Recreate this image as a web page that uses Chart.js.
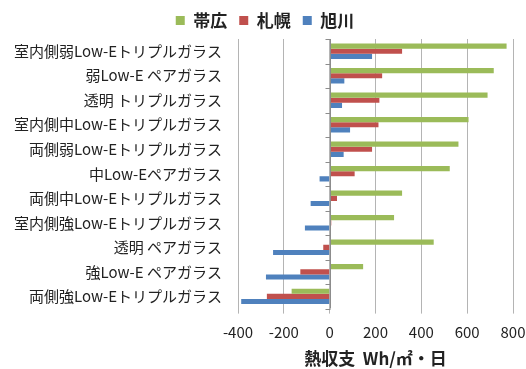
<!DOCTYPE html>
<html>
<head>
<meta charset="utf-8">
<script src="https://cdn.jsdelivr.net/npm/chart.js@4/dist/chart.umd.min.js"></script>
<style>
  html, body { margin: 0; padding: 0; background: #fff; }
  #wrap { width: 526px; height: 369px; }
</style>
</head>
<body>
<div id="wrap"><canvas id="heatChart"></canvas></div>
<script>
// glass types, top to bottom
const glassTypes = [
     '室内側弱Low-Eトリプルガラス',
     '弱Low-E ペアガラス',
     '透明 トリプルガラス',
     '室内側中Low-Eトリプルガラス',
     '両側弱Low-Eトリプルガラス',
     '中Low-Eペアガラス',
     '両側中Low-Eトリプルガラス',
     '室内側強Low-Eトリプルガラス',
     '透明 ペアガラス',
     '強Low-E ペアガラス',
     '両側強Low-Eトリプルガラス',
]

// heat balance values, Wh/㎡・day
const obihiro = [772, 716, 689, 606, 562, 524, 316, 281, 454, 146, -166]
const sapporo = [316, 229, 217, 213, 185, 109, 32, 7, -28, -128, -274]
const asahikawa = [185, 64, 54, 89, 61, -44, -83, -108, -247, -278, -386]

const xTicks = [-400, -200, 0, 200, 400, 600, 800]

const fontJP = "'Noto Sans CJK JP', 'Noto Sans', sans-serif"

// the category axis sits on zero, with small ticks between the groups
const zeroAxis = {
     id: 'zeroAxis',
     afterDatasetsDraw(chart) {
          const { ctx, scales: { x, y } } = chart
          const x0 = Math.round(x.getPixelForValue(0)) + 0.5
          const step = y.getPixelForTick(1) - y.getPixelForTick(0)
          ctx.save()
          ctx.strokeStyle = '#8c8c8c'
          ctx.lineWidth = 1
          ctx.beginPath()
          ctx.moveTo(x0, y.top)
          ctx.lineTo(x0, y.bottom)
          for (let i = 0; i <= glassTypes.length; i++) {
               const py = Math.round(y.getPixelForTick(0) - step / 2 + i * step) + 0.5
               ctx.moveTo(x0 - 5, py)
               ctx.lineTo(x0, py)
          }
          ctx.stroke()
          ctx.restore()
     }
}

new Chart(document.getElementById('heatChart'), {
     type: 'bar',
     data: {
          labels: glassTypes,
          datasets: [
               { label: '帯広', data: obihiro, backgroundColor: '#9BBB59' },
               { label: '札幌', data: sapporo, backgroundColor: '#C0504D' },
               { label: '旭川', data: asahikawa, backgroundColor: '#4F81BD' },
          ]
     },
     options: {
          indexAxis: 'y',
          responsive: true,
          maintainAspectRatio: false,
          animation: false,
          categoryPercentage: 0.63,
          barPercentage: 1,
          layout: { padding: { top: 0, right: 0, bottom: 0, left: 4 } },
          plugins: {
               legend: {
                    position: 'top',
                    labels: {
                         boxWidth: 9,
                         boxHeight: 9,
                         padding: 12,
                         color: '#222',
                         font: { family: fontJP, size: 17, weight: 'bold' }
                    }
               },
               tooltip: { enabled: false }
          },
          scales: {
               x: {
                    min: -400,
                    max: 800,
                    afterBuildTicks: (axis) => { axis.ticks = xTicks.map(v => ({ value: v })) },
                    afterFit: (axis) => { axis.paddingLeft = 0; axis.paddingRight = 13 },
                    grid: { color: '#b4b4b4', drawTicks: true, tickLength: 5 },
                    border: { display: false },
                    ticks: {
                         padding: 10,
                         color: '#222',
                         font: { family: fontJP, size: 15 }
                    },
                    title: {
                         display: true,
                         text: '熱収支  Wh/㎡・日',
                         color: '#222',
                         padding: { top: -3, bottom: 0 },
                         font: { family: fontJP, size: 17, weight: 'bold' }
                    }
               },
               y: {
                    grid: { display: false },
                    border: { display: false },
                    afterFit: (axis) => { axis.width = 234 },
                    ticks: {
                         padding: 8,
                         color: '#222',
                         font: { family: fontJP, size: 15 }
                    }
               }
          }
     },
     plugins: [zeroAxis]
})
</script>
</body>
</html>
